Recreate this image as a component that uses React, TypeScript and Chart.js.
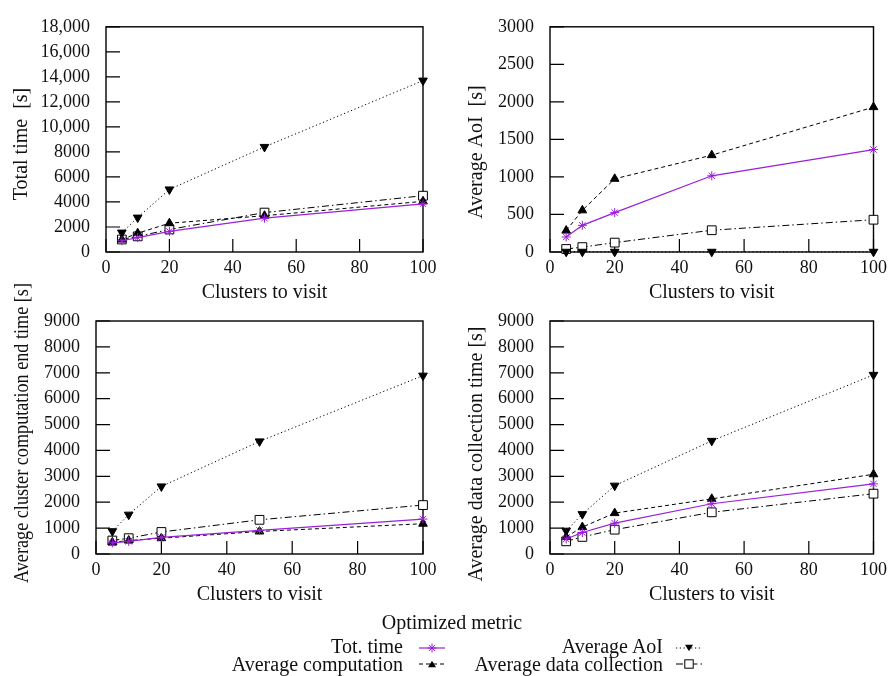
import React, { useEffect, useRef } from 'react';
import { Chart, registerables } from 'chart.js';
Chart.register(...registerables);

// ---------- data ----------
const clusters = [5, 10, 20, 50, 100];
const xTicks = [0, 20, 40, 60, 80, 100];

// Total time [s]
const totalTotTime = [900, 1150, 1650, 2700, 3850];
const totalAvgComp = [1000, 1500, 2300, 2900, 4050];
const totalAvgAoI = [1550, 2750, 5000, 8400, 13700];
const totalAvgDC = [1000, 1250, 1800, 3150, 4500];
const totalTicks = [0, 2000, 4000, 6000, 8000, 10000, 12000, 14000, 16000, 18000];

// Average AoI [s]
const aoiTotTime = [200, 355, 525, 1015, 1365];
const aoiAvgComp = [285, 555, 975, 1290, 1930];
const aoiAvgAoI = [3, 3, 3, 3, 3];
const aoiAvgDC = [40, 65, 125, 290, 430];
const aoiTicks = [0, 500, 1000, 1500, 2000, 2500, 3000];

// Average cluster computation end time [s]
const compTotTime = [430, 490, 640, 910, 1350];
const compAvgComp = [450, 520, 610, 870, 1170];
const compAvgAoI = [880, 1520, 2610, 4350, 6890];
const compAvgDC = [520, 610, 850, 1320, 1890];
const compTicks = [0, 1000, 2000, 3000, 4000, 5000, 6000, 7000, 8000, 9000];

// Average data collection time [s]
const dcTotTime = [580, 830, 1190, 1940, 2710];
const dcAvgComp = [660, 1040, 1580, 2130, 3080];
const dcAvgAoI = [900, 1540, 2640, 4370, 6920];
const dcAvgDC = [490, 660, 940, 1610, 2330];
const dcTicks = [0, 1000, 2000, 3000, 4000, 5000, 6000, 7000, 8000, 9000];

const seriesNames = ['Tot. time', 'Average computation', 'Average AoI', 'Average data collection'];
const legendTitle = 'Optimized metric';
const xTitle = 'Clusters to visit';

// ---------- styles ----------
const W = 892;
const H = 676;
const PURPLE = '#9a1fd8';
const FONT = '"Liberation Serif", "Times New Roman", serif';
const TEXT = '#111';
const TITLE_SIZE = 20;

const seriesStyles = [
  { color: PURPLE, pointStyle: 'star', radius: 4.5, dash: [], fill: PURPLE, rotation: 0, width: 1.2 },
  { color: '#000', pointStyle: 'triangle', radius: 5, dash: [4, 3], fill: '#000', rotation: 0, width: 1 },
  { color: '#000', pointStyle: 'triangle', radius: 5, dash: [1.2, 2.6], fill: '#000', rotation: 180, width: 1 },
  { color: '#000', pointStyle: 'rect', radius: 6.2, dash: [7, 3, 1.5, 3], fill: '#fff', rotation: 0, width: 1 },
];

const panels = [
  { series: [totalTotTime, totalAvgComp, totalAvgAoI, totalAvgDC], ticks: totalTicks, yTitle: 'Total time  [s]',
    area: { left: 106, top: 18, right: 423, bottom: 252 }, yTitleX: 27, yTitleY: 144, yTitleMax: 0 },
  { series: [aoiTotTime, aoiAvgComp, aoiAvgAoI, aoiAvgDC], ticks: aoiTicks, yTitle: 'Average AoI  [s]',
    area: { left: 550, top: 18, right: 877, bottom: 252 }, yTitleX: 482, yTitleY: 152, yTitleMax: 0 },
  { series: [compTotTime, compAvgComp, compAvgAoI, compAvgDC], ticks: compTicks, yTitle: 'Average cluster computation end time [s]',
    area: { left: 96, top: 321, right: 423, bottom: 554 }, yTitleX: 28, yTitleY: 433, yTitleMax: 300 },
  { series: [dcTotTime, dcAvgComp, dcAvgAoI, dcAvgDC], ticks: dcTicks, yTitle: 'Average data collection time [s]',
    area: { left: 550, top: 321, right: 877, bottom: 554 }, yTitleX: 482, yTitleY: 454, yTitleMax: 0 },
];

const YAXIS_W = 90;
const XAXIS_H = 40;

const fmt = (v: number) => (v >= 10000 ? v.toLocaleString('en-US') : String(v));

const framePlugin = {
  id: 'frameAndTitles',
  beforeDatasetsDraw(chart: any, _args: any, opts: any) {
    const { ctx, chartArea: a, scales } = chart;
    ctx.save();
    ctx.strokeStyle = '#000';
    ctx.lineWidth = 1.2;
    ctx.beginPath();
    scales.x.ticks.forEach((t: any) => {
      const px = scales.x.getPixelForValue(t.value);
      ctx.moveTo(px, a.bottom);
      ctx.lineTo(px, a.bottom - 13);
    });
    scales.y.ticks.forEach((t: any) => {
      const py = scales.y.getPixelForValue(t.value);
      ctx.moveTo(a.left, py);
      ctx.lineTo(a.left + 14, py);
    });
    ctx.stroke();
    ctx.lineWidth = 1.4;
    ctx.strokeRect(a.left, a.top, a.right - a.left, a.bottom - a.top);

    ctx.fillStyle = TEXT;
    ctx.font = `${TITLE_SIZE}px ${FONT}`;
    ctx.textAlign = 'center';
    ctx.textBaseline = 'alphabetic';
    ctx.fillText(opts.xTitle, (a.left + a.right) / 2, a.bottom + 46);
    ctx.translate(opts.yTitleX, opts.yTitleY);
    ctx.rotate(-Math.PI / 2);
    if (opts.yTitleMax) ctx.fillText(opts.yTitle, 0, 0, opts.yTitleMax);
    else ctx.fillText(opts.yTitle, 0, 0);
    ctx.restore();
  },
};

function Panel({ cfg }: { cfg: any }) {
  const ref = useRef<HTMLCanvasElement>(null);
  useEffect(() => {
    const a = cfg.area;
    const ticksArr: number[] = cfg.ticks;
    const datasets = cfg.series.map((vals: number[], i: number) => {
      const s = seriesStyles[i];
      return {
        label: seriesNames[i],
        data: clusters.map((c, j) => ({ x: c, y: vals[j] })),
        borderColor: s.color,
        backgroundColor: s.fill,
        borderWidth: s.width,
        borderDash: s.dash,
        pointStyle: s.pointStyle,
        pointRadius: s.radius,
        pointRotation: s.rotation,
        pointBackgroundColor: s.fill,
        pointBorderColor: s.color,
        pointBorderWidth: 1,
        tension: 0,
        clip: false,
        fill: false,
      };
    });
    const chart = new Chart(ref.current as HTMLCanvasElement, {
      type: 'line',
      data: { datasets },
      plugins: [framePlugin],
      options: {
        animation: false,
        responsive: false,
        devicePixelRatio: 1,
        events: [],
        layout: {
          padding: {
            left: a.left - YAXIS_W,
            right: W - a.right,
            top: a.top,
            bottom: H - a.bottom - XAXIS_H,
          },
        },
        plugins: {
          legend: { display: false },
          tooltip: { enabled: false },
          frameAndTitles: {
            xTitle,
            yTitle: cfg.yTitle,
            yTitleX: cfg.yTitleX,
            yTitleY: cfg.yTitleY,
            yTitleMax: cfg.yTitleMax,
          },
        } as any,
        scales: {
          x: {
            type: 'linear',
            min: xTicks[0],
            max: xTicks[xTicks.length - 1],
            grid: { display: false, drawTicks: false },
            border: { display: false },
            afterBuildTicks: (scale: any) => {
              scale.ticks = xTicks.map((v) => ({ value: v }));
            },
            afterFit: (scale: any) => {
              scale.height = XAXIS_H;
            },
            ticks: {
              padding: 5,
              color: TEXT,
              font: { family: FONT, size: 18 },
              maxRotation: 0,
              callback: (v: any) => String(v),
            },
          },
          y: {
            type: 'linear',
            min: ticksArr[0],
            max: ticksArr[ticksArr.length - 1],
            grid: { display: false, drawTicks: false },
            border: { display: false },
            afterBuildTicks: (scale: any) => {
              scale.ticks = ticksArr.map((v) => ({ value: v }));
            },
            afterFit: (scale: any) => {
              scale.width = YAXIS_W;
            },
            ticks: {
              padding: 16,
              color: TEXT,
              font: { family: FONT, size: 18 },
              callback: (v: any) => fmt(Number(v)),
            },
          },
        },
      } as any,
    });
    return () => chart.destroy();
  }, [cfg]);
  return (
    <canvas
      ref={ref}
      width={W}
      height={H}
      style={{ position: 'absolute', left: 0, top: 0, width: W, height: H }}
    />
  );
}

function Sample({ idx, left, cy }: { idx: number; left: number; cy: number }) {
  const s = seriesStyles[idx];
  const w = 26;
  const h = 14;
  const m = w / 2;
  const c = h / 2;
  let marker: any = null;
  if (s.pointStyle === 'star') {
    const r = 4.5;
    marker = (
      <g stroke={s.color} strokeWidth={1}>
        <line x1={m - r} y1={c} x2={m + r} y2={c} />
        <line x1={m} y1={c - r} x2={m} y2={c + r} />
        <line x1={m - r * 0.7} y1={c - r * 0.7} x2={m + r * 0.7} y2={c + r * 0.7} />
        <line x1={m - r * 0.7} y1={c + r * 0.7} x2={m + r * 0.7} y2={c - r * 0.7} />
      </g>
    );
  } else if (s.pointStyle === 'triangle') {
    const up = s.rotation === 0;
    const hw = 4;
    const ht = 6.5;
    const pts = up
      ? `${m - hw},${c + ht / 2} ${m + hw},${c + ht / 2} ${m},${c - ht / 2}`
      : `${m - hw},${c - ht / 2} ${m + hw},${c - ht / 2} ${m},${c + ht / 2}`;
    marker = <polygon points={pts} fill="#000" />;
  } else {
    marker = <rect x={m - 4.2} y={c - 4.2} width={8.4} height={8.4} fill="#fff" stroke="#000" strokeWidth={1} />;
  }
  return (
    <svg
      width={w}
      height={h}
      style={{ position: 'absolute', left, top: cy - c }}
    >
      <line
        x1={0}
        y1={c}
        x2={w}
        y2={c}
        stroke={s.color}
        strokeWidth={s.width}
        strokeDasharray={s.dash.length ? s.dash.join(' ') : undefined}
      />
      {marker}
    </svg>
  );
}

function LegendText({ text, right, baseline }: { text: string; right: number; baseline: number }) {
  return (
    <div
      style={{
        position: 'absolute',
        left: right - 300,
        width: 300,
        top: baseline - 17,
        lineHeight: '20px',
        fontSize: TITLE_SIZE,
        textAlign: 'right',
        whiteSpace: 'pre',
        color: TEXT,
      }}
    >
      {text}
    </div>
  );
}

export default function App() {
  return (
    <div
      style={{
        position: 'fixed',
        left: 0,
        top: 0,
        width: W,
        height: H,
        background: '#fff',
        fontFamily: FONT,
        overflow: 'hidden',
      }}
    >
      {panels.map((p, i) => (
        <Panel key={i} cfg={p} />
      ))}
      <div
        style={{
          position: 'absolute',
          left: 452 - 200,
          width: 400,
          top: 629 - 17,
          lineHeight: '20px',
          fontSize: TITLE_SIZE,
          textAlign: 'center',
          color: TEXT,
        }}
      >
        {legendTitle}
      </div>
      <LegendText text={seriesNames[0]} right={403} baseline={653} />
      <Sample idx={0} left={419} cy={648} />
      <LegendText text={seriesNames[2]} right={663} baseline={653} />
      <Sample idx={2} left={676} cy={648} />
      <LegendText text={seriesNames[1]} right={403} baseline={671} />
      <Sample idx={1} left={419} cy={664} />
      <LegendText text={seriesNames[3]} right={663} baseline={671} />
      <Sample idx={3} left={676} cy={664} />
    </div>
  );
}
